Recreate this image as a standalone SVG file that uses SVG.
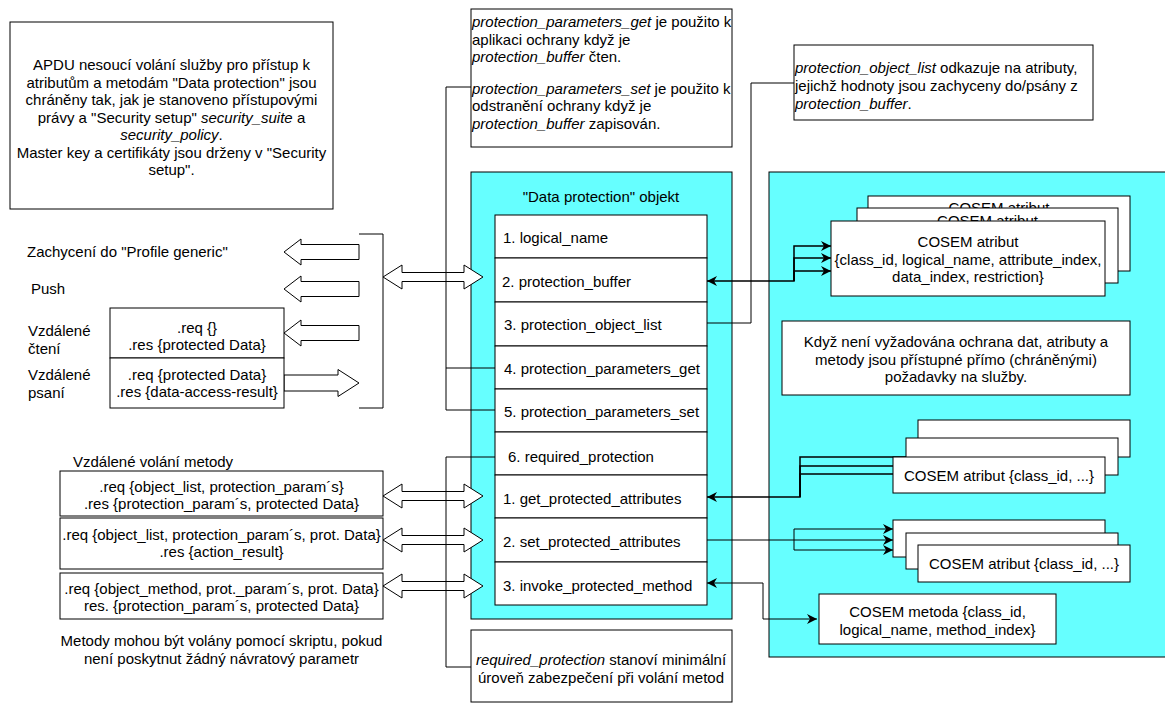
<svg xmlns="http://www.w3.org/2000/svg" width="1165" height="704" viewBox="0 0 1165 704">
<defs>
<style>
text { font-family: "Liberation Sans", Arial, sans-serif; font-size: 15px; fill: #000; }
.c { text-anchor: middle; }
.i { font-style: italic; }
.box { fill: #fff; stroke: #000; stroke-width: 1; }
.cyan { fill: #66FFFF; stroke: #000; stroke-width: 1; }
.ln { fill: none; stroke: #000; stroke-width: 1; }
.lnb { fill: none; stroke: #000; stroke-width: 1.5; }
.blk { fill: #fff; stroke: #000; stroke-width: 1; }
</style>
<marker id="ah" viewBox="0 0 10 10" refX="10" refY="5" markerWidth="10" markerHeight="10" markerUnits="userSpaceOnUse" orient="auto-start-reverse">
<path d="M0,0 L10,5 L0,10 L3,5 Z" fill="#000"/>
</marker>
</defs>
<rect width="1165" height="704" fill="#fff"/>

<g id="note-apdu">
<rect class="box" x="10" y="22" width="323" height="187"/>
<text class="c" x="171.5" y="70">APDU nesoucí volání služby pro přístup k</text>
<text class="c" x="171.5" y="87.5">atributům a metodám "Data protection" jsou</text>
<text class="c" x="171.5" y="105">chráněny tak, jak je stanoveno přístupovými</text>
<text class="c" x="171.5" y="122.5">právy a "Security setup" <tspan class="i">security_suite</tspan> a</text>
<text class="c" x="171.5" y="140"><tspan class="i">security_policy</tspan>.</text>
<text class="c" x="171.5" y="157.5">Master key a certifikáty jsou drženy v "Security</text>
<text class="c" x="171.5" y="175">setup".</text>
</g>

<g id="note-params">
<rect class="box" x="471" y="9" width="261" height="138"/>
<text x="472" y="27"><tspan class="i">protection_parameters_get</tspan> je použito k</text>
<text x="472" y="44.5">aplikaci ochrany když je</text>
<text x="472" y="62"><tspan class="i">protection_buffer</tspan> čten.</text>
<text x="472" y="93.5"><tspan class="i">protection_parameters_set</tspan> je použito k</text>
<text x="472" y="111">odstranění ochrany když je</text>
<text x="472" y="128.5"><tspan class="i">protection_buffer</tspan> zapisován.</text>
</g>

<g id="note-objlist">
<rect class="box" x="794" y="45" width="299" height="75"/>
<text x="795" y="73"><tspan class="i">protection_object_list</tspan> odkazuje na atributy,</text>
<text x="795" y="91">jejichž hodnoty jsou zachyceny do/psány z</text>
<text x="795" y="108.5"><tspan class="i">protection_buffer</tspan>.</text>
</g>

<g id="data-protection">
<rect class="cyan" x="471" y="172" width="261" height="447"/>
<text class="c" x="601" y="202">"Data protection" objekt</text>
<rect class="box" x="495" y="215" width="212" height="43"/>
<rect class="box" x="495" y="258" width="212" height="44"/>
<rect class="box" x="495" y="302" width="212" height="44"/>
<rect class="box" x="495" y="346" width="212" height="43"/>
<rect class="box" x="495" y="389" width="212" height="43"/>
<rect class="box" x="495" y="432" width="212" height="43"/>
<rect class="box" x="495" y="475" width="212" height="43"/>
<rect class="box" x="495" y="518" width="212" height="44"/>
<rect class="box" x="495" y="562" width="212" height="43"/>
<text x="503" y="243">1. logical_name</text>
<text x="502" y="287">2. protection_buffer</text>
<text x="504" y="330">3. protection_object_list</text>
<text x="504" y="374">4. protection_parameters_get</text>
<text x="504" y="417">5. protection_parameters_set</text>
<text x="508" y="462">6. required_protection</text>
<text x="503" y="504">1. get_protected_attributes</text>
<text x="503" y="547">2. set_protected_attributes</text>
<text x="503" y="591">3. invoke_protected_method</text>
</g>

<g id="panel-right">
<rect class="cyan" x="769" y="172" width="400" height="485"/>
</g>

<g id="connectors">
<polygon class="blk" points="284,252 301,239 301,244.5 359,244.5 359,259.5 301,259.5 301,265"/>
<polygon class="blk" points="284,289 301,276 301,281.5 359,281.5 359,296.5 301,296.5 301,302"/>
<polygon class="blk" points="284,333 301,320 301,325.5 359,325.5 359,340.5 301,340.5 301,346"/>
<polygon class="blk" points="359,383 338,369.5 338,375 284,375 284,391 338,391 338,396.5"/>
<path class="ln" d="M359,234 L383,234 L383,408 L359,408"/>
<polygon class="blk" points="383,277 402,265 402,272.5 464,272.5 464,265 483,277 464,289 464,281.5 402,281.5 402,289"/>
<polygon class="blk" points="383,496 402,484 402,491.5 464,491.5 464,484 483,496 464,508 464,500.5 402,500.5 402,508"/>
<polygon class="blk" points="383,540 402,528 402,535.5 464,535.5 464,528 483,540 464,552 464,544.5 402,544.5 402,552"/>
<polygon class="blk" points="383,586 402,574 402,581.5 464,581.5 464,574 483,586 464,598 464,590.5 402,590.5 402,598"/>
<path class="ln" d="M471,87 L446,87 L446,410 L495,410"/>
<path class="ln" d="M446,368 L495,368"/>
<path class="ln" d="M495,457 L446,457 L446,667 L471,667"/>
<path class="ln" d="M707,323 L751,323 L751,83 L794,83"/>
<path class="lnb" d="M707,281 L794,281 L794,246 L831,246" marker-start="url(#ah)" marker-end="url(#ah)"/>
<path class="lnb" d="M794,281 L794,258 L831,258" marker-end="url(#ah)"/>
<path class="lnb" d="M794,281 L794,271 L831,271" marker-end="url(#ah)"/>
<path class="lnb" d="M707,497 L800,497 L800,457 L918,457" marker-start="url(#ah)"/>
<path class="lnb" d="M800,497 L800,466 L906,466"/>
<path class="lnb" d="M800,497 L800,474 L893,474"/>
<path class="ln" d="M707,540 L893,540" marker-end="url(#ah)"/>
<path class="ln" d="M794,540 L794,529 L893,529" marker-end="url(#ah)"/>
<path class="ln" d="M794,540 L794,550 L893,550" marker-end="url(#ah)"/>
<path class="ln" d="M707,583 L763,583 L763,619 L817,619" marker-start="url(#ah)" marker-end="url(#ah)"/>
</g>

<g id="cosem-attr-stack-1">
<rect class="box" x="868" y="196" width="262" height="75"/>
<text class="c" x="999" y="213">COSEM atribut</text>
<rect class="box" x="857" y="208" width="261" height="75"/>
<text class="c" x="987.5" y="226">COSEM atribut</text>
<rect class="box" x="831" y="221" width="274" height="75"/>
<text class="c" x="968" y="247">COSEM atribut</text>
<text class="c" x="968" y="264.5">{class_id, logical_name, attribute_index,</text>
<text class="c" x="968" y="282">data_index, restriction}</text>
</g>

<g id="note-direct">
<rect class="box" x="782" y="321" width="348" height="74"/>
<text class="c" x="956" y="347">Když není vyžadována ochrana dat, atributy a</text>
<text class="c" x="956" y="364.5">metody jsou přístupné přímo (chráněnými)</text>
<text class="c" x="956" y="382">požadavky na služby.</text>
</g>

<g id="cosem-attr-stack-2">
<rect class="box" x="918" y="420" width="212" height="37"/>
<rect class="box" x="906" y="438" width="212" height="37"/>
<rect class="box" x="893" y="457" width="212" height="36"/>
<text class="c" x="999" y="481">COSEM atribut {class_id, ...}</text>
</g>

<g id="cosem-attr-stack-3">
<rect class="box" x="893" y="520" width="212" height="37"/>
<rect class="box" x="906" y="533" width="212" height="36"/>
<rect class="box" x="918" y="545" width="212" height="37"/>
<text class="c" x="1024" y="569">COSEM atribut {class_id, ...}</text>
</g>

<g id="cosem-method">
<rect class="box" x="819" y="594" width="237" height="50"/>
<text class="c" x="937.5" y="617">COSEM metoda {class_id,</text>
<text class="c" x="937.5" y="634.5">logical_name, method_index}</text>
</g>

<g id="note-required">
<rect class="box" x="471" y="630" width="261" height="72"/>
<text class="c" x="601" y="665"><tspan class="i">required_protection</tspan> stanoví minimální</text>
<text class="c" x="601" y="682.5">úroveň zabezpečení při volání metod</text>
</g>

<g id="label-capture">
<text x="27" y="257">Zachycení do "Profile generic"</text>
</g>
<g id="label-push">
<text x="31" y="294">Push</text>
</g>
<g id="label-read">
<text x="28" y="336">Vzdálené</text>
<text x="28" y="353.5">čtení</text>
</g>
<g id="label-write">
<text x="28" y="380">Vzdálené</text>
<text x="28" y="397.5">psaní</text>
</g>

<g id="rw-table">
<rect class="box" x="110" y="308" width="174" height="50"/>
<rect class="box" x="110" y="358" width="174" height="50"/>
<text class="c" x="197" y="333">.req {}</text>
<text class="c" x="197" y="350">.res {protected Data}</text>
<text class="c" x="197" y="380">.req {protected Data}</text>
<text class="c" x="197" y="397">.res {data-access-result}</text>
</g>

<g id="method-calls">
<text x="73" y="467">Vzdálené volání metody</text>
<rect class="box" x="60" y="471" width="323" height="45"/>
<text class="c" x="221.5" y="492">.req {object_list, protection_param´s}</text>
<text class="c" x="221.5" y="508.5">.res {protection_param´s, protected Data}</text>
<rect class="box" x="60" y="518" width="323" height="51"/>
<text class="c" x="221.5" y="540">.req {object_list, protection_param´s, prot. Data}</text>
<text class="c" x="221.5" y="557">.res {action_result}</text>
<rect class="box" x="60" y="573" width="323" height="46"/>
<text class="c" x="221.5" y="594">.req {object_method, prot._param´s, prot. Data}</text>
<text class="c" x="221.5" y="611">res. {protection_param´s, protected Data}</text>
</g>

<g id="note-script">
<text class="c" x="221.5" y="646">Metody mohou být volány pomocí skriptu, pokud</text>
<text class="c" x="221.5" y="663.5">není poskytnut žádný návratový parametr</text>
</g>
</svg>
